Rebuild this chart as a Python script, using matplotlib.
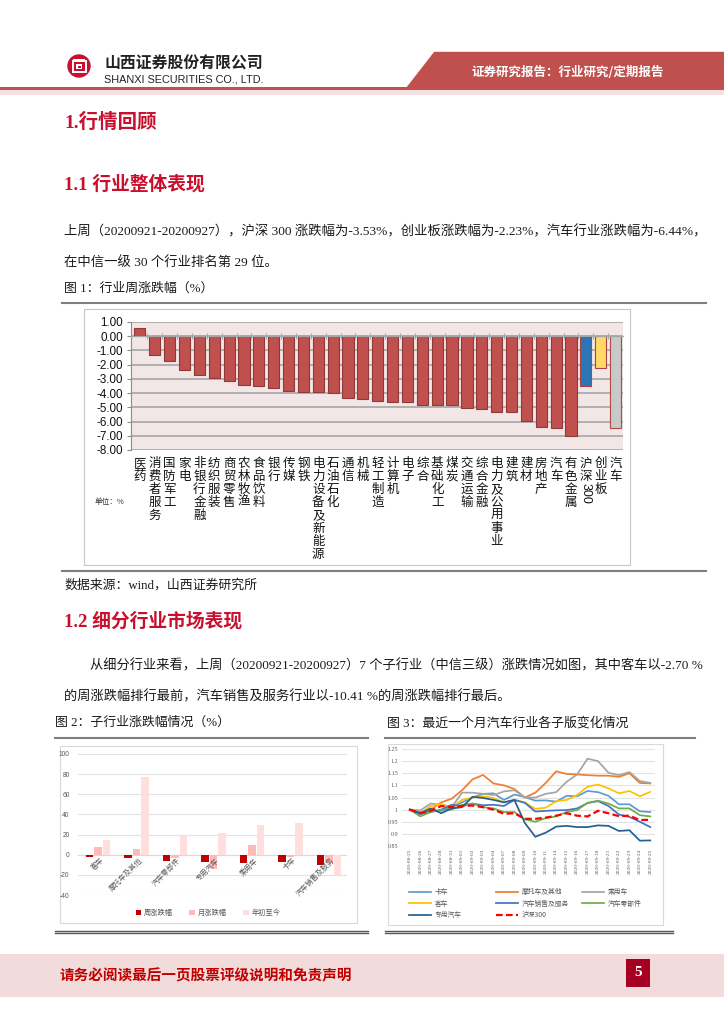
import matplotlib
matplotlib.use('Agg')
import matplotlib.pyplot as plt
from matplotlib.lines import Line2D
from matplotlib.patches import Rectangle, Polygon, Ellipse

plt.rcParams['font.family'] = ['Noto Sans CJK SC', 'DejaVu Sans']
plt.rcParams['axes.unicode_minus'] = False

SERIF = ['Liberation Serif', 'Noto Sans CJK SC']
SANS = ['Liberation Sans', 'Noto Sans CJK SC']
CJK = ['Noto Sans CJK SC', 'DejaVu Sans']

# ---- data: figure 1, weekly change by industry (%)
industries = ['医药', '消费者服务', '国防军工', '家电', '非银行金融', '纺织服装', '商贸零售',
              '农林牧渔', '食品饮料', '银行', '传媒', '钢铁', '电力设备及新能源', '石油石化',
              '通信', '机械', '轻工制造', '计算机', '电子', '综合', '基础化工', '煤炭',
              '交通运输', '综合金融', '电力及公用事业', '建筑', '建材', '房地产', '汽车',
              '有色金属', '沪深300', '创业板', '汽车']
weekly_chg = [0.55, -1.30, -1.75, -2.35, -2.70, -2.95, -3.15, -3.45, -3.50, -3.65, -3.85,
              -3.90, -3.95, -4.00, -4.35, -4.40, -4.55, -4.60, -4.60, -4.85, -4.85, -4.85,
              -5.05, -5.15, -5.30, -5.35, -5.95, -6.40, -6.44, -7.05, -3.53, -2.23, -6.44]
y_ticks1 = [1, 0, -1, -2, -3, -4, -5, -6, -7, -8]

# ---- data: figure 2, sub-industry changes (%)
sub_names = ['客车', '摩托车及其他', '汽车零部件', '专用汽车', '乘用车', '卡车', '汽车销售及服务']
sub_week = [-2.70, -2.90, -6.0, -7.3, -8.0, -7.7, -10.41]
sub_month = [7.3, 6.0, -3.0, -13.7, 10.0, -2.3, -8.3]
sub_ytd = [15.0, 77.0, 20.0, 21.3, 30.0, 31.3, -19.7]
y_ticks2 = [100, 80, 60, 40, 20, 0, -20, -40]

# ---- data: figure 3, normalised index over the last month
dates = ['2020-08-25', '2020-08-26', '2020-08-27', '2020-08-28', '2020-08-31', '2020-09-01',
         '2020-09-02', '2020-09-03', '2020-09-04', '2020-09-07', '2020-09-08', '2020-09-09',
         '2020-09-10', '2020-09-11', '2020-09-14', '2020-09-15', '2020-09-16', '2020-09-17',
         '2020-09-18', '2020-09-21', '2020-09-22', '2020-09-23', '2020-09-24', '2020-09-25']
truck = [1.0, 0.98, 0.995, 0.995, 1.01, 1.03, 1.05, 1.065, 1.067, 1.04, 1.062, 1.052,
         1.037, 1.038, 1.033, 1.057, 1.055, 1.077, 1.072, 1.057, 1.022, 1.022, 0.993, 0.99]
moto = [1.0, 0.99, 1.0, 1.03, 1.045, 1.08, 1.125, 1.143, 1.108, 1.10, 1.085, 1.05,
        1.07, 1.11, 1.158, 1.147, 1.145, 1.142, 1.14, 1.14, 1.135, 1.15, 1.11, 1.108]
passenger = [1.0, 0.997, 1.025, 1.02, 1.01, 1.07, 1.07, 1.065, 1.06, 1.075, 1.08, 1.05,
             1.05, 1.065, 1.072, 1.115, 1.145, 1.21, 1.20, 1.152, 1.142, 1.155, 1.118, 1.11]
bus = [1.0, 0.985, 1.015, 1.023, 1.01, 1.04, 1.05, 1.055, 1.048, 1.03, 1.04, 1.03,
       1.003, 1.008, 1.035, 1.04, 1.06, 1.095, 1.103, 1.088, 1.067, 1.077, 1.055, 1.073]
dealer = [1.0, 0.985, 0.99, 1.0, 1.02, 1.015, 1.025, 1.018, 1.02, 1.015, 1.04, 1.028,
          0.992, 0.995, 0.997, 0.998, 1.005, 1.027, 1.035, 1.015, 0.98, 0.97, 0.95, 0.928]
parts = [1.0, 0.972, 0.99, 1.0, 1.0, 1.02, 1.025, 1.01, 1.005, 0.99, 0.99, 0.96,
         0.95, 0.965, 0.972, 0.99, 0.998, 1.028, 1.037, 1.025, 1.005, 1.005, 0.977, 0.972]
special = [1.0, 0.985, 1.005, 0.985, 1.005, 1.01, 1.053, 1.048, 1.04, 1.03, 1.04, 0.945,
           0.888, 0.905, 0.93, 0.933, 0.928, 0.928, 0.935, 0.933, 0.912, 0.915, 0.872, 0.873]
hs300 = [1.0, 0.985, 0.995, 1.015, 1.01, 1.015, 1.017, 1.01, 1.0, 0.983, 0.985, 0.962,
         0.962, 0.967, 0.975, 0.985, 0.975, 0.972, 0.995, 0.985, 0.973, 0.975, 0.957, 0.958]
y_ticks3 = [0.85, 0.9, 0.95, 1.0, 1.05, 1.1, 1.15, 1.2, 1.25]

# ---- page helpers (pixel coordinates, origin top-left)
W, H = 724, 1024
fig = plt.figure(figsize=(W / 100, H / 100), dpi=100)


def fx(x):
    return x / W


def fy(y):
    return 1 - y / H


def add_ax(x0, y0, x1, y1):
    return fig.add_axes([fx(x0), fy(y1), (x1 - x0) / W, (y1 - y0) / H])


def txt(x, y, s, **kw):
    kw.setdefault('va', 'center')
    return fig.text(fx(x), fy(y), s, **kw)


def hline(x0, x1, y, color='#7F7F7F', lw=1.5):
    fig.add_artist(Line2D([fx(x0), fx(x1)], [fy(y), fy(y)], color=color, lw=lw,
                          transform=fig.transFigure))


def rect(x0, y0, x1, y1, **kw):
    fig.add_artist(Rectangle((fx(x0), fy(y1)), (x1 - x0) / W, (y1 - y0) / H,
                             transform=fig.transFigure, **kw))


# ---- header
fig.add_artist(Ellipse((fx(79), fy(66)), 22 / W, 22 / H, color='#C8102E',
                       transform=fig.transFigure))
rect(72.5, 61, 85.5, 72, fc='none', ec='white', lw=1.4)
rect(76, 64, 82, 69, fc='white', ec='none')
rect(77.5, 65.5, 80.5, 67.5, fc='#C8102E', ec='none')
rect(73, 58.5, 85, 59.5, fc='white', ec='none')
txt(104, 64, '山西证券股份有限公司', fontsize=11.4, fontweight='bold', color='#222222', family=CJK)
txt(104, 79, 'SHANXI SECURITIES CO., LTD.', fontsize=7.8, color='#222222',
    family=['Liberation Sans'])
fig.add_artist(Polygon([(fx(434), fy(52)), (fx(724), fy(52)), (fx(724), fy(88)),
                        (fx(406), fy(88))], closed=True, color='#C0504D',
                       transform=fig.transFigure))
txt(471, 72, '证券研究报告：行业研究/定期报告', fontsize=9, fontweight='bold', color='white',
    family=CJK)
rect(0, 87, 724, 90, fc='#C0504D', ec='none')
rect(0, 90, 724, 95, fc='#F4E0E0', ec='none')

# ---- headings and body text
RED = '#C8102E'
BODY = '#1A1A1A'
txt(64, 122, '1.行情回顾', fontsize=14, fontweight='bold', color=RED, family=SERIF)
txt(64, 184, '1.1 行业整体表现', fontsize=13.5, fontweight='bold', color=RED, family=SERIF)
txt(64, 232, '上周（20200921-20200927），沪深 300 涨跌幅为-3.53%，创业板涨跌幅为-2.23%，'
    '汽车行业涨跌幅为-6.44%，', fontsize=9.6, color=BODY, family=SERIF)
txt(64, 262, '在中信一级 30 个行业排名第 29 位。', fontsize=9.6, color=BODY, family=SERIF)
txt(64, 289, '图 1：行业周涨跌幅（%）', fontsize=9.3, color=BODY, family=SERIF)
hline(62, 706, 303)

# ---- figure 1
rect(84, 309, 630, 565, fc='white', ec='#C8C8C8', lw=0.8, zorder=-5)
ax1 = add_ax(131, 322, 623, 450)
x1 = list(range(len(industries)))
colors1 = ['#C0504D'] * 30 + ['#2E75B6', '#FFD966', '#C9C9C9']
edges1 = ['#8E3A38'] * 30 + ['#A84442', '#A84442', '#B04846']
ax1.bar(x1, weekly_chg, width=0.75, color=colors1, edgecolor=edges1, linewidth=0.8, zorder=3)
ax1.set_facecolor('#F2E6E6')
ax1.set_xlim(-0.6, len(industries) - 0.5)
ax1.set_ylim(-8, 1)
ax1.set_yticks(y_ticks1)
ax1.set_yticklabels(['%.2f' % v for v in y_ticks1], family=SANS, fontsize=8.4, color='#111111')
ax1.yaxis.grid(True, color='#A6A6A6', lw=1.2, zorder=1)
ax1.tick_params(axis='y', length=3, color='#8C8C8C', pad=3)
ax1.spines['top'].set_visible(False)
ax1.spines['right'].set_visible(False)
ax1.spines['left'].set_color('#8C8C8C')
ax1.spines['bottom'].set_position(('data', 0))
ax1.spines['bottom'].set_color('#A6A6A6')
ax1.spines['bottom'].set_zorder(4)
ax1.set_xticks([i + 0.5 for i in x1[:-1]])
ax1.set_xticklabels([])
ax1.tick_params(axis='x', direction='inout', length=4, color='#A6A6A6')
for i, name in enumerate(industries):
    if name == '沪深300':
        ax1.annotate('沪\n深', xy=(i, 0), xycoords=('data', 'axes fraction'),
                     xytext=(0, -5), textcoords='offset points', ha='center', va='top',
                     fontsize=9, linespacing=1.0, color='#111111', family=CJK)
        ax1.annotate('300', xy=(i, 0), xycoords=('data', 'axes fraction'),
                     xytext=(0, -23.8), textcoords='offset points', ha='center', va='top',
                     rotation=270, fontsize=9, color='#111111', family=SANS)
    else:
        ax1.annotate('\n'.join(name), xy=(i, 0), xycoords=('data', 'axes fraction'),
                     xytext=(0, -5), textcoords='offset points', ha='center', va='top',
                     fontsize=9, linespacing=1.0, color='#111111', family=CJK)
txt(95, 502, '单位：%', fontsize=5.5, color='#333333', family=CJK)

hline(62, 706, 571)
txt(64, 585, '数据来源：wind，山西证券研究所', fontsize=9.3, color=BODY, family=SERIF)

txt(64, 621, '1.2 细分行业市场表现', fontsize=13.5, fontweight='bold', color=RED, family=SERIF)
txt(90, 666, '从细分行业来看，上周（20200921-20200927）7 个子行业（中信三级）涨跌情况如图，'
    '其中客车以-2.70 %', fontsize=9.5, color=BODY, family=SERIF)
txt(64, 697, '的周涨跌幅排行最前，汽车销售及服务行业以-10.41 %的周涨跌幅排行最后。',
    fontsize=9.5, color=BODY, family=SERIF)

txt(55, 723, '图 2：子行业涨跌幅情况（%）', fontsize=9.3, color=BODY, family=SERIF)
txt(387, 723, '图 3：最近一个月汽车行业各子版变化情况', fontsize=9.3, color=BODY, family=SERIF)
hline(55, 368, 738)
hline(385, 695, 738)

# ---- figure 2
rect(60, 746, 357, 923, fc='white', ec='#D9D9D9', lw=0.8, zorder=-5)
ax2 = add_ax(78, 754, 347, 895)
x2 = list(range(len(sub_names)))
bw = 0.2
ax2.bar([i - 0.22 for i in x2], sub_week, width=bw, color='#C00000', zorder=3, label='周涨跌幅')
ax2.bar(x2, sub_month, width=bw, color='#FFB9B9', zorder=3, label='月涨跌幅')
ax2.bar([i + 0.22 for i in x2], sub_ytd, width=bw, color='#FFDEDE', zorder=3, label='年初至今')
ax2.set_facecolor('none')
ax2.set_xlim(-0.52, len(sub_names) - 0.53)
ax2.set_ylim(-40, 100)
ax2.set_yticks(y_ticks2)
ax2.set_yticklabels([str(v) for v in y_ticks2], fontsize=4.8, color='#595959', family=SANS)
ax2.yaxis.grid(True, color='#E3E3E3', lw=0.8, zorder=0)
ax2.tick_params(axis='y', length=0, pad=6)
ax2.set_xticks([])
for s in ax2.spines.values():
    s.set_visible(False)
ax2.axhline(0, color='#D9D9D9', lw=0.8, zorder=2)
for i, name in enumerate(sub_names):
    ax2.text(i + 0.05, -1.5, name, rotation=45, rotation_mode='anchor', ha='right', va='top',
             fontsize=5.2, color='#595959', family=CJK, zorder=5)
h2, l2 = ax2.get_legend_handles_labels()
fig.legend(h2, l2, loc='center', bbox_to_anchor=(fx(208), fy(913)), ncol=3, frameon=False,
           handlelength=0.8, handleheight=0.8, handletextpad=0.4,
           columnspacing=2.2, labelcolor='#595959', prop={'family': CJK, 'size': 5.2})
hline(55, 368, 930.5, color='#595959', lw=1.0)
hline(55, 368, 932.5, color='#595959', lw=1.0)

# ---- figure 3
rect(388, 744, 663, 925, fc='white', ec='#D9D9D9', lw=0.8, zorder=-5)
ax3 = add_ax(402, 749, 655, 846)
x3 = list(range(len(dates)))
series3 = [('卡车', truck, '#5B9BD5', '-'),
           ('摩托车及其他', moto, '#ED7D31', '-'),
           ('乘用车', passenger, '#A5A5A5', '-'),
           ('客车', bus, '#FFC000', '-'),
           ('汽车销售及服务', dealer, '#4472C4', '-'),
           ('汽车零部件', parts, '#70AD47', '-'),
           ('专用汽车', special, '#255E91', '-'),
           ('沪深300', hs300, '#FF0000', '--')]
lines3 = {}
for label, vals, col, ls in series3:
    if ls == '--':
        ln, = ax3.plot(x3, vals, color=col, lw=1.6, dashes=(3, 1.5), label=label, zorder=3)
    else:
        ln, = ax3.plot(x3, vals, color=col, lw=1.25, label=label, zorder=3)
    lines3[label] = ln
ax3.set_facecolor('none')
ax3.set_xlim(-0.75, len(dates) - 0.55)
ax3.set_ylim(0.85, 1.25)
ax3.set_yticks(y_ticks3)
ax3.set_yticklabels(['%g' % v for v in y_ticks3], fontsize=4.3, color='#595959',
                    family=['Liberation Serif'])
ax3.yaxis.grid(True, color='#E3E3E3', lw=0.8, zorder=0)
ax3.tick_params(axis='y', length=0, pad=3)
ax3.set_xticks(x3)
ax3.set_xticklabels(dates, rotation=90, fontsize=3.9, color='#595959', family=['Liberation Serif'])
ax3.tick_params(axis='x', length=0, pad=2)
for s in ax3.spines.values():
    s.set_visible(False)
legend_cols = [(['卡车', '客车', '专用汽车'], 409),
               (['摩托车及其他', '汽车销售及服务', '沪深300'], 496),
               (['乘用车', '汽车零部件'], 582)]
for names, xpos in legend_cols:
    fig.legend([lines3[n] for n in names], names, loc='upper left',
               bbox_to_anchor=(fx(xpos), fy(888)), frameon=False, ncol=1,
               handlelength=3.3, handletextpad=0.5, labelspacing=0.55,
               borderpad=0, borderaxespad=0, labelcolor='#595959',
               prop={'family': CJK, 'size': 4.9})
hline(385, 673, 931, color='#595959', lw=1.0)
hline(385, 673, 933, color='#595959', lw=1.0)

# ---- footer
rect(0, 954, 724, 997, fc='#F2DCDB', ec='none')
txt(60, 975, '请务必阅读最后一页股票评级说明和免责声明', fontsize=10.5, fontweight='bold',
    color='#C00000', family=CJK)
rect(626, 959, 650, 987, fc='#A50021', ec='none')
txt(638, 973, '5', fontsize=11, fontweight='bold', color='white', ha='center',
    family=['Liberation Serif'])

fig.savefig('out.png', dpi=100)
